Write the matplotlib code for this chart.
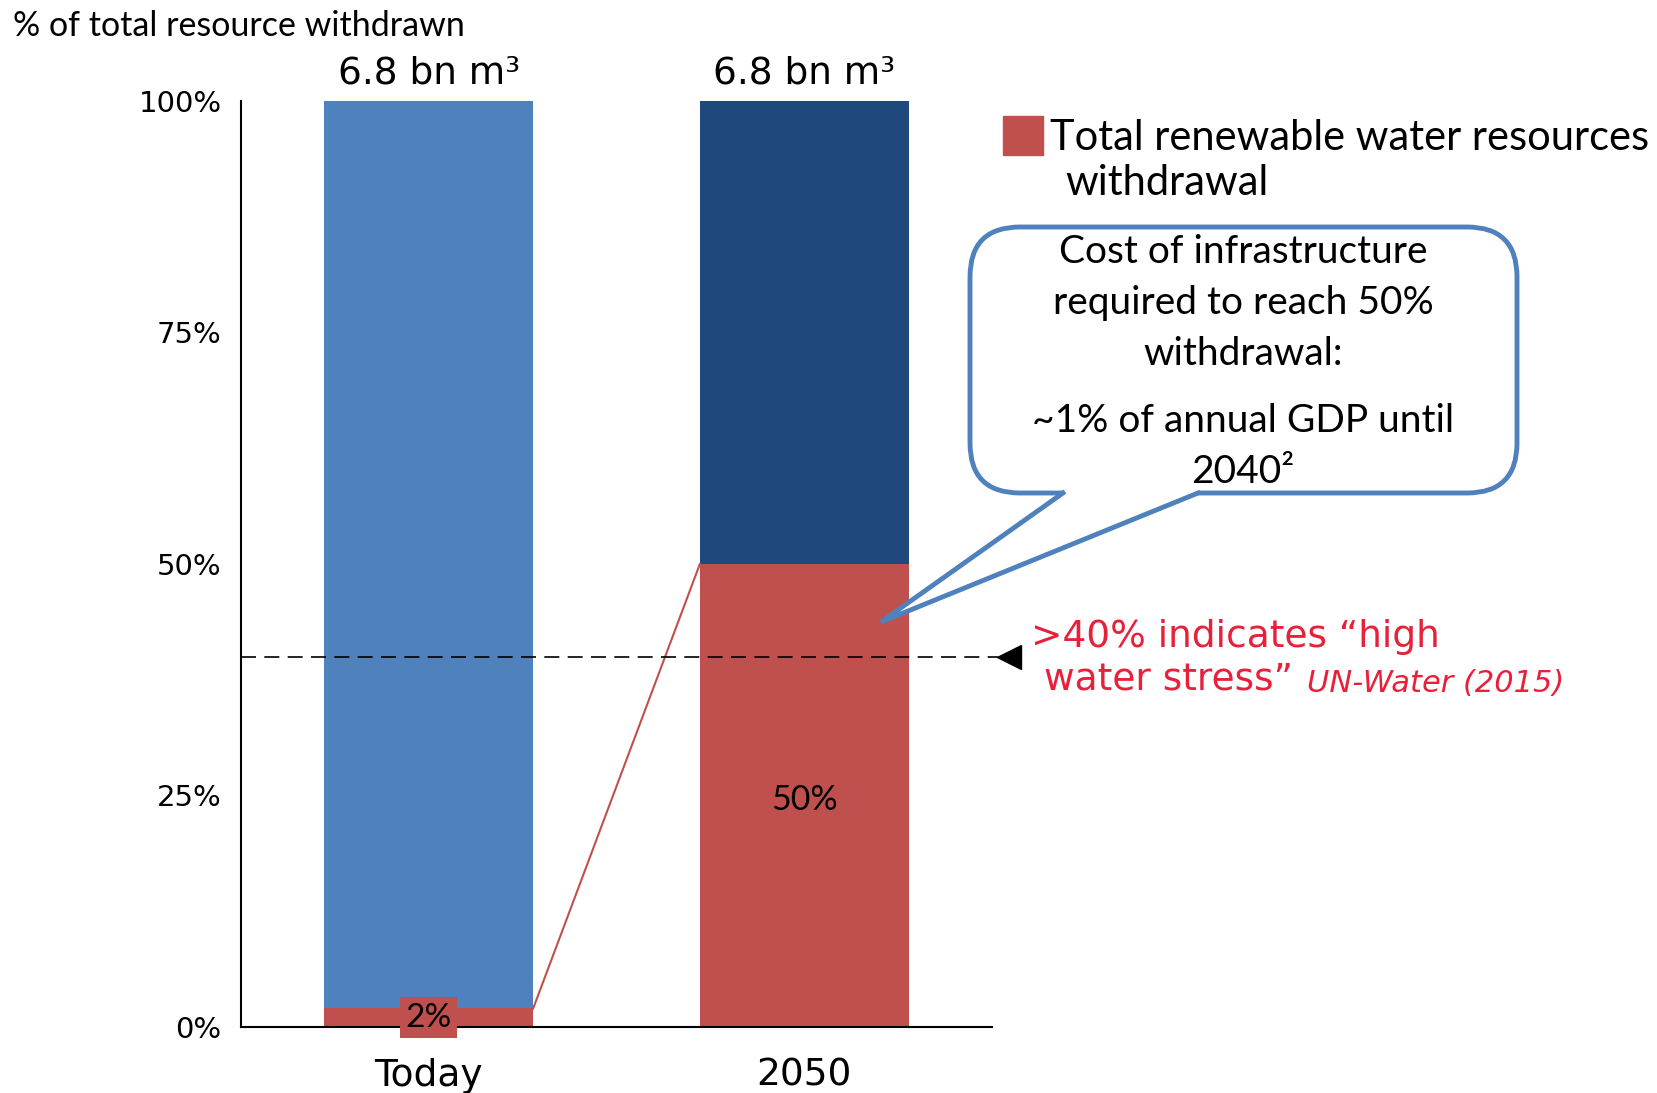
import numpy as np
import matplotlib
matplotlib.use("Agg")
import matplotlib.pyplot as plt
from matplotlib.patches import FancyBboxPatch, Polygon

# data
periods = ["Today", "2050"]
withdrawn = [2, 50]           # % of total renewable resource withdrawn
remaining = [98, 50]
volumes = ["6.8 bn m³", "6.8 bn m³"]
stress_level = 40
yticks = [0, 25, 50, 75, 100]

RED = "#C0504D"
BLUE_LIGHT = "#4F81BD"
BLUE_DARK = "#1F497D"
CRIMSON = "#E8203A"
SANS = ["Lato", "DejaVu Sans"]
WIDE = ["DejaVu Sans"]

fig = plt.figure(figsize=(16.58, 10.93), dpi=100)
ax = fig.add_axes([0.1454, 0.0604, 0.4529, 0.8472])

x = np.arange(len(periods))
w = 0.556
ax.bar(x, withdrawn, w, color=RED, zorder=2)
ax.bar(x, remaining, w, bottom=withdrawn, color=[BLUE_LIGHT, BLUE_DARK], zorder=2)

ax.set_xlim(-0.5, 1.5)
ax.set_ylim(0, 100)
ax.set_yticks(yticks)
ax.set_yticklabels([f"{t}%" for t in yticks], family=WIDE, fontsize=21)
ax.set_xticks(x)
ax.set_xticklabels(periods, family=WIDE, fontsize=27)
ax.tick_params(axis="y", length=0, pad=14)
ax.tick_params(axis="x", length=0, pad=22)
for s in ["top", "right"]:
    ax.spines[s].set_visible(False)
for s in ["left", "bottom"]:
    ax.spines[s].set_linewidth(1.5)

# volume labels on top
for xi, v in zip(x, volumes):
    ax.text(xi, 101.0, v, ha="center", va="bottom", family=WIDE, fontsize=27)

# value labels
ax.text(x[0], withdrawn[0] / 2, f"{withdrawn[0]}%", ha="center", va="center",
        family=SANS, fontsize=24, zorder=4,
        bbox=dict(boxstyle="square,pad=0.16", fc=RED, ec="none"))
ax.text(x[1], withdrawn[1] / 2 - 0.5, f"{withdrawn[1]}%", ha="center", va="center",
        family=SANS, fontsize=24.5, zorder=4)

# connector between red segments
ax.plot([x[0] + w / 2, x[1] - w / 2], [withdrawn[0], withdrawn[1]],
        color=RED, lw=1.5, zorder=3)

# high stress threshold
ax.plot([-0.5, 1.515], [stress_level, stress_level], color="black", lw=1.2,
        dashes=(9, 5), clip_on=False, zorder=3)
ax.plot([1.545], [stress_level], marker="<", color="black", ms=17,
        clip_on=False, zorder=3)

# overlay in pixel coordinates for the annotations
ov = fig.add_axes([0, 0, 1, 1], zorder=5)
ov.set_xlim(0, 1658)
ov.set_ylim(1093, 0)
ov.axis("off")
ov.patch.set_alpha(0)

ov.text(13, 26, "% of total resource withdrawn", family=SANS, fontsize=24.5,
        va="center", ha="left")

# legend
ov.add_patch(plt.Rectangle((1003, 116), 40, 39, color=RED))
ov.text(1050, 138, "Total renewable water resources", family=SANS, fontsize=30,
        va="center", ha="left")
ov.text(1065, 183, "withdrawal", family=SANS, fontsize=30, va="center", ha="left")

# callout
box = FancyBboxPatch((970 + 50, 227 + 50), 547 - 100, 266 - 100,
                     boxstyle="round,pad=50", fc="white", ec=BLUE_LIGHT, lw=3.5,
                     mutation_aspect=1)
ov.add_patch(box)
base_l, base_r, tip = (1063, 493), (1198, 493), (881, 622)
ov.add_patch(Polygon([(base_l[0], base_l[1] - 6), base_l, tip, base_r,
                      (base_r[0], base_r[1] - 6)], closed=True, fc="white", ec="none"))
ov.plot([base_l[0], tip[0], base_r[0]], [base_l[1], tip[1], base_r[1]],
        color=BLUE_LIGHT, lw=3.5, solid_joinstyle="miter")

cx = 1243
for yy, t in [(252, "Cost of infrastructure"), (303, "required to reach 50%"),
              (354, "withdrawal:"), (421, "~1% of annual GDP until"),
              (472, "2040²")]:
    ov.text(cx, yy, t, family=SANS, fontsize=28, ha="center", va="center")

# stress note
ov.text(1031, 637, ">40% indicates \u201chigh", color=CRIMSON, family=WIDE,
        fontsize=27, va="center", ha="left")
t2 = ov.text(1044, 680, "water stress\u201d", color=CRIMSON, family=WIDE,
             fontsize=27, va="center", ha="left")
fig.canvas.draw()
bb = t2.get_window_extent().transformed(ov.transData.inverted())
ov.text(max(bb.x0, bb.x1) + 14, 683, "UN-Water (2015)", color=CRIMSON, family=WIDE,
        style="italic", fontsize=22, va="center", ha="left")

fig.savefig("out.png", dpi=100)
